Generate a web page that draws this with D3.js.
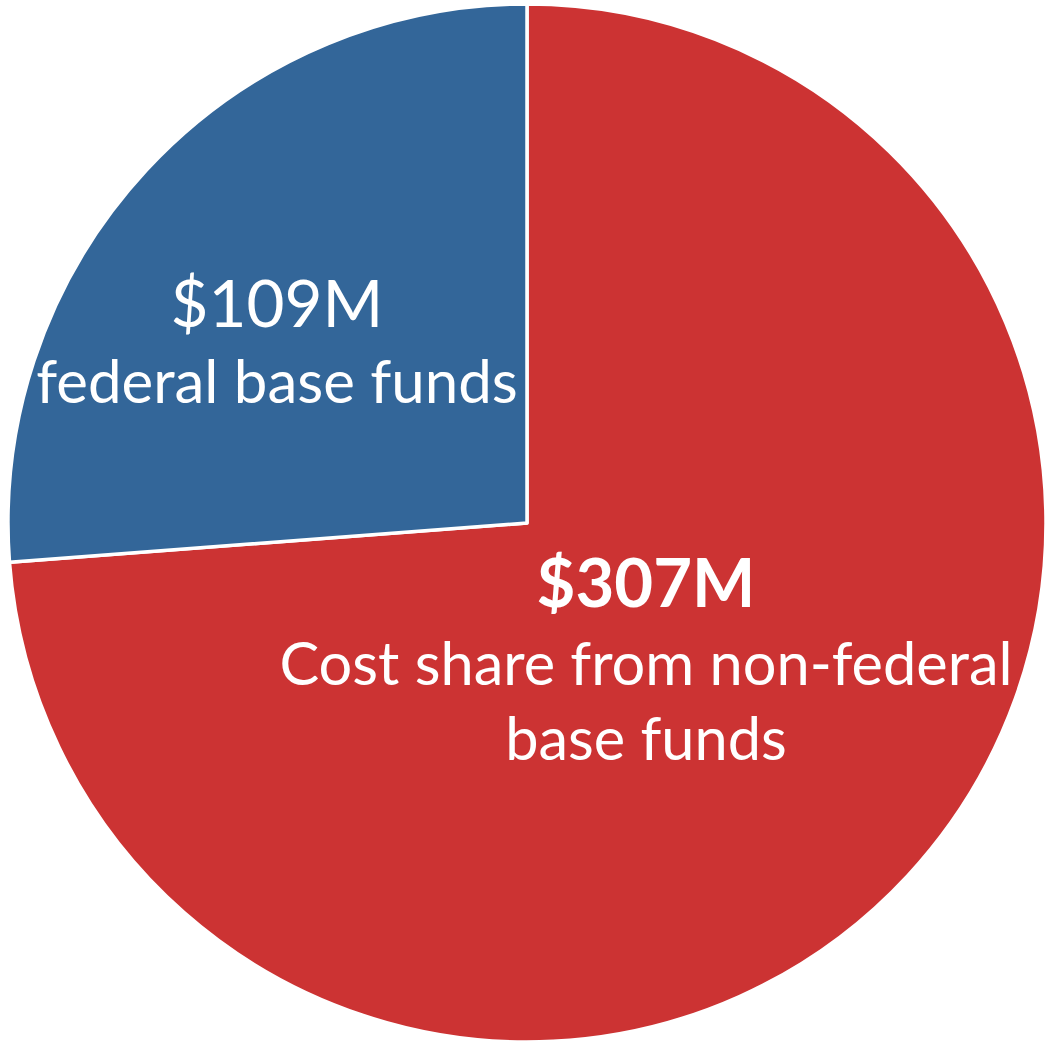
<!DOCTYPE html>
<html>
<head>
<meta charset="utf-8">
<script src="https://cdn.jsdelivr.net/npm/d3@7"></script>
<style>
  html, body { margin: 0; padding: 0; background: #fff; }
  text { font-family: Lato, "Open Sans", sans-serif; fill: #fff; }
</style>
</head>
<body>
<div id="chart"></div>
<script>
var w = 1050,
    h = 1047,
    cx = 527,
    cy = 523,
    r = 519;

// slice values in $M, drawn clockwise from 12 o'clock
var categories = ["Cost share from non-federal base funds", "federal base funds"];
var values = [307, 109];
var amountLabels = ["$307M", "$109M"];
var colors = ["#cc3333", "#336699"];

var svg = d3.select("#chart").append("svg")
    .attr("width", w)
    .attr("height", h);

var g = svg.append("g")
    .attr("transform", "translate(" + cx + "," + cy + ")");

var pie = d3.pie().sort(null).value(function(d) { return d; });
var arc = d3.arc().innerRadius(0).outerRadius(r);

var arcs = pie(values);

g.selectAll("path")
    .data(arcs)
  .enter().append("path")
    .attr("d", arc)
    .attr("fill", function(d, i) { return colors[i]; })
    .attr("stroke", "#fff")
    .attr("stroke-width", 3.5)
    .attr("stroke-linejoin", "round");

// label blocks, placed relative to the centre
var labels = [
  { x: 119, lines: [
      { t: amountLabels[0], y: 84, size: 67, weight: "bold" },
      { t: "Cost share from non-federal", y: 162, size: 59.5, weight: "normal" },
      { t: "base funds", y: 237, size: 59.5, weight: "normal" }
  ]},
  { x: -250, lines: [
      { t: amountLabels[1], y: -196, size: 65.5, weight: "normal" },
      { t: categories[1], y: -120, size: 60, weight: "normal" }
  ]}
];

labels.forEach(function(l) {
  g.selectAll(null)
      .data(l.lines)
    .enter().append("text")
      .attr("x", l.x)
      .attr("y", function(d) { return d.y; })
      .attr("text-anchor", "middle")
      .style("font-size", function(d) { return d.size + "px"; })
      .style("font-weight", function(d) { return d.weight; })
      .text(function(d) { return d.t; });
});
</script>
</body>
</html>
